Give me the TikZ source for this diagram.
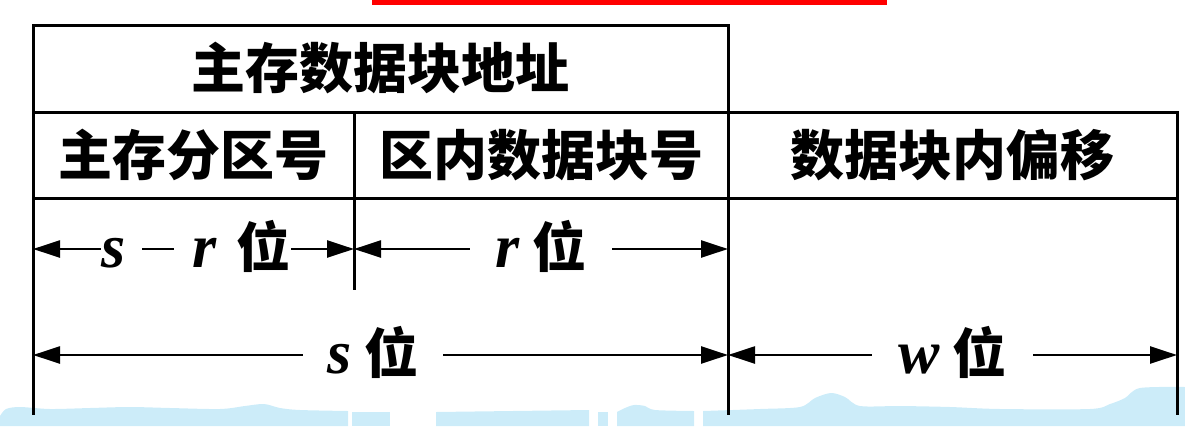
\documentclass[tikz,border=0pt]{standalone}
\usepackage{fontspec}
\newfontfamily\cjk{Noto Sans CJK SC}
\newfontfamily\lat{Liberation Serif}
\usetikzlibrary{arrows.meta}
\definecolor{bandblue}{RGB}{204,236,249}
\definecolor{barred}{RGB}{255,0,0}
\newcommand{\myvar}[1]{{\lat\bfseries\itshape\fontsize{62bp}{66bp}\selectfont #1}}
\newcommand{\myminus}{\rule[16.8bp]{32bp}{2.4bp}}
\begin{document}
\begin{tikzpicture}[x=1bp,y=-1bp,
  frame/.style={line width=3bp,line cap=rect},
  dimline/.style={line width=2.4bp,-{Triangle[length=27bp,width=17bp]}},
  cell/.style={font=\cjk\bfseries\fontsize{54bp}{60bp}\selectfont,inner sep=0pt},
  lab/.style={font=\cjk\bfseries\fontsize{54bp}{60bp}\selectfont,inner ysep=0pt,anchor=base}]
\useasboundingbox (0,0) rectangle (1185,426);
% red bar
\fill[barred] (372,0) rectangle (887,5);
% light blue band
\fill[bandblue] plot[smooth] coordinates {(0,416) (6,409) (20,407) (50,409) (90,408) (130,407) (170,408) (220,409) (245,406) (264,404) (280,408) (300,410) (348,411)} -- (348,426) -- (0,426) -- cycle;
\fill[bandblue] (352,412) rectangle (390,426);
\fill[bandblue] (436,412) -- (589,410) -- (589,426) -- (436,426) -- cycle;
\fill[bandblue] (598,412) rectangle (608,426);
\fill[bandblue] plot[smooth] coordinates {(617,412) (625,408) (634,405) (645,406) (655,410) (694,411)} -- (694,426) -- (617,426) -- cycle;
\fill[bandblue] plot[smooth] coordinates {(703,411) (760,409) (800,407) (815,398) (831,393) (845,397) (860,406) (900,406) (950,407) (1000,409) (1090,409) (1110,404) (1125,398) (1140,388) (1185,387)} -- (1185,426) -- (703,426) -- cycle;
% frame
\draw[frame] (33,25) rectangle (728,112);
\draw[frame] (728,112) -- (1177,112);
\draw[frame] (33,198) -- (1177,198);
\draw[frame] (33,112) -- (33,413);
\draw[frame] (728,112) -- (728,413);
\draw[frame] (1177,112) -- (1177,413);
\draw[frame] (354,112) -- (354,288);
% cell texts
\node[cell] (t1) at (380.5,68) {主存数据块地址};
\node[cell] (t2) at (193.5,155) {主存分区号};
\node[cell] (t3) at (541,155) {区内数据块号};
\node[cell] (t4) at (952.5,155) {数据块内偏移};
% dimension end points
\coordinate (a0) at (33,249);
\coordinate (a1) at (354,249);
\coordinate (a2) at (728,249);
\coordinate (b0) at (33,355);
\coordinate (b1) at (728,355);
\coordinate (b2) at (1177,355);
% labels
\node[lab,inner xsep=1bp] (lsr) at (196,267) {\myvar{s}\hspace{16bp}\myminus\hspace{18bp}\myvar{r}\hspace{20bp}位};
\node[lab,inner xsep=26bp] (lr) at (541,267) {\myvar{r}\hspace{12bp}位};
\node[lab,inner xsep=25bp] (ls) at (373,373) {\myvar{s}\hspace{12bp}位};
\node[lab,inner xsep=27bp] (lw) at (952.5,373) {\myvar{w}\hspace{12bp}位};
% dimension arrows
\draw[dimline] (lsr.west |- a0) -- (a0);
\draw[dimline] (lsr.east |- a1) -- (a1);
\draw[dimline] (lr.west |- a1) -- (a1);
\draw[dimline] (lr.east |- a2) -- (a2);
\draw[dimline] (ls.west |- b0) -- (b0);
\draw[dimline] (ls.east |- b1) -- (b1);
\draw[dimline] (lw.west |- b1) -- (b1);
\draw[dimline] (lw.east |- b2) -- (b2);
\end{tikzpicture}
\end{document}
